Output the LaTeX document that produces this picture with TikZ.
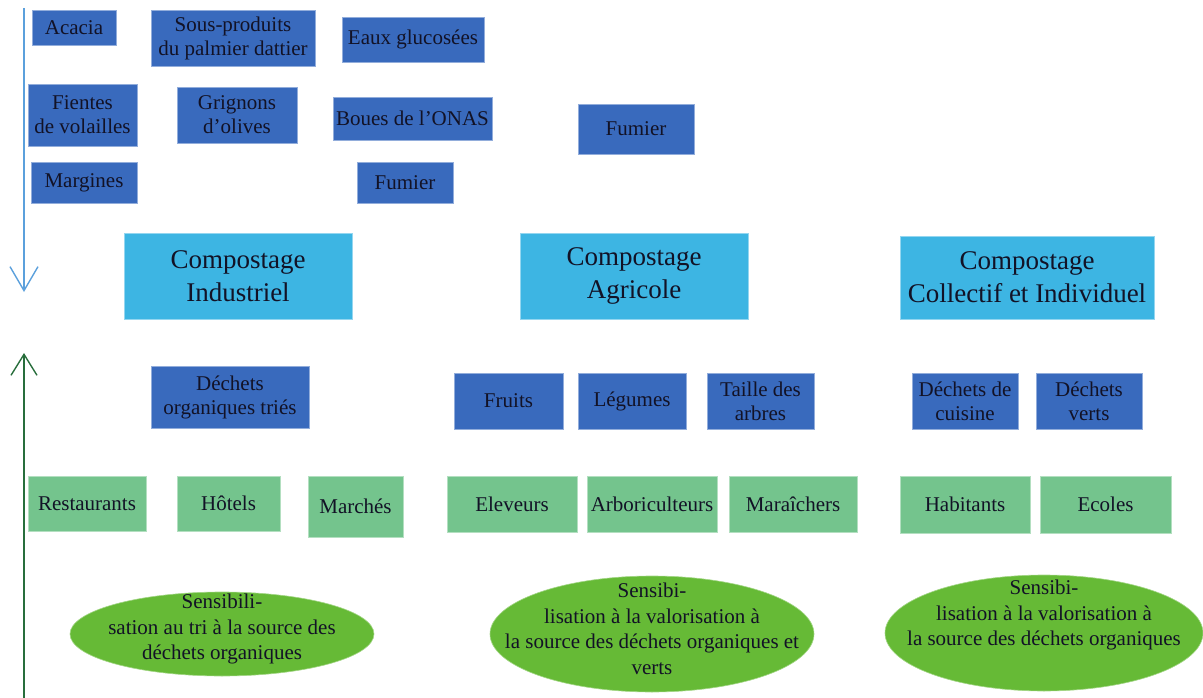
\documentclass[tikz,border=0pt]{standalone}
\usepackage{fontspec}
\setmainfont{Liberation Serif}
\usetikzlibrary{arrows.meta,shapes.geometric}
\definecolor{dblue}{RGB}{57,106,189}
\definecolor{lblue}{RGB}{61,181,227}
\definecolor{gbox}{RGB}{116,196,141}
\definecolor{gell}{RGB}{102,186,54}
\definecolor{txt}{RGB}{18,18,38}
\definecolor{arrblue}{RGB}{91,160,220}
\definecolor{arrgreen}{RGB}{40,110,60}
\tikzset{
  base/.style={inner sep=0pt, align=center, text=txt, line width=0.8pt,
    font=\fontsize{21}{24}\selectfont},
  dbox/.style={base, fill=dblue, draw=dblue!55!white},
  bbox/.style={base, fill=lblue, draw=lblue!55!white, font=\fontsize{27}{33}\selectfont},
  gbx/.style={base, fill=gbox, draw=gbox!55!white},
  ell/.style={ellipse, fill=gell, draw=gell!60!white, line width=0.6pt, inner sep=0pt},
  etext/.style={base, font=\fontsize{21}{25.5}\selectfont},
}
\begin{document}
\begin{tikzpicture}[x=1pt,y=-1pt]
\useasboundingbox (0,0) rectangle (1203,698);
% arrows
\coordinate (btop) at (24,8);
\coordinate (bbot) at (24,292);
\coordinate (gbot) at (24,698);
\coordinate (gtop) at (24,353);
\draw[arrblue, line width=1.4pt, -{Straight Barb[length=24pt,width=28pt,line width=1.4pt]}] (btop) -- (bbot);
\draw[arrgreen, line width=1.4pt, -{Straight Barb[length=21pt,width=26pt,line width=1.4pt]}] (gbot) -- (gtop);
% top inputs
\node[dbox, minimum width=84, minimum height=35] (acacia) at (74,27.5) {Acacia};
\node[dbox, minimum width=164, minimum height=56] (sous) at (233,38) {Sous-produits\\du palmier dattier};
\node[dbox, minimum width=142, minimum height=45] (eaux) at (413,39.5) {Eaux glucosées};
\node[dbox, minimum width=109, minimum height=62] (fientes) at (82.5,115) {Fientes\\de volailles};
\node[dbox, minimum width=120, minimum height=56] (grignons) at (237,115) {Grignons\\d’olives};
\node[dbox, minimum width=159, minimum height=43] (boues) at (412.5,118.5) {Boues de l’ONAS};
\node[dbox, minimum width=116, minimum height=50] (fumier2) at (636,129) {Fumier};
\node[dbox, minimum width=106, minimum height=41] (margines) at (84,182.5) {Margines};
\node[dbox, minimum width=96, minimum height=41] (fumier1) at (405,182.5) {Fumier};
% composting types
\node[bbox, minimum width=228, minimum height=86] (ci) at (238,276) {Compostage\\Industriel};
\node[bbox, minimum width=228, minimum height=86] (ca) at (634,276) {Compostage\\Agricole};
\node[bbox, minimum width=254, minimum height=83] (cc) at (1027,277.5) {Compostage\\Collectif et Individuel};
% waste types
\node[dbox, minimum width=158, minimum height=62] (dot) at (230,397) {Déchets\\organiques triés};
\node[dbox, minimum width=109, minimum height=56] (fruits) at (508.5,401) {Fruits};
\node[dbox, minimum width=108, minimum height=56] (legumes) at (632,401) {Légumes};
\node[dbox, minimum width=107, minimum height=56] (taille) at (760.5,401) {Taille des\\arbres};
\node[dbox, minimum width=106, minimum height=56] (cuisine) at (965,401) {Déchets de\\cuisine};
\node[dbox, minimum width=106, minimum height=56] (verts) at (1089,401) {Déchets\\verts};
% actors
\node[gbx, minimum width=118, minimum height=55] (resto) at (87,503.5) {Restaurants};
\node[gbx, minimum width=103, minimum height=55] (hotels) at (228.5,503.5) {Hôtels};
\node[gbx, minimum width=95, minimum height=61] (marches) at (355.5,506.5) {Marchés};
\node[gbx, minimum width=130, minimum height=56] (eleveurs) at (512,504) {Eleveurs};
\node[gbx, minimum width=130, minimum height=56] (arbo) at (652,504) {Arboriculteurs};
\node[gbx, minimum width=128, minimum height=56] (mara) at (793,504) {Maraîchers};
\node[gbx, minimum width=130, minimum height=57] (habit) at (965,504.5) {Habitants};
\node[gbx, minimum width=131, minimum height=57] (ecoles) at (1105.5,504.5) {Ecoles};
% awareness ellipses
\node[ell, minimum width=304, minimum height=84] (e1) at (222,634) {};
\node[ell, minimum width=324, minimum height=116] (e2) at (652,634) {};
\node[ell, minimum width=318, minimum height=116] (e3) at (1044,633) {};
\node[etext] (t1) at (222,629) {Sensibili-\\sation au tri à la source des\\déchets organiques};
\node[etext] (t2) at (652,629) {Sensibi-\\lisation à la valorisation à\\la source des déchets organiques et\\verts};
\node[etext] (t3) at (1044,615) {Sensibi-\\lisation à la valorisation à\\la source des déchets organiques};
\end{tikzpicture}
\end{document}
